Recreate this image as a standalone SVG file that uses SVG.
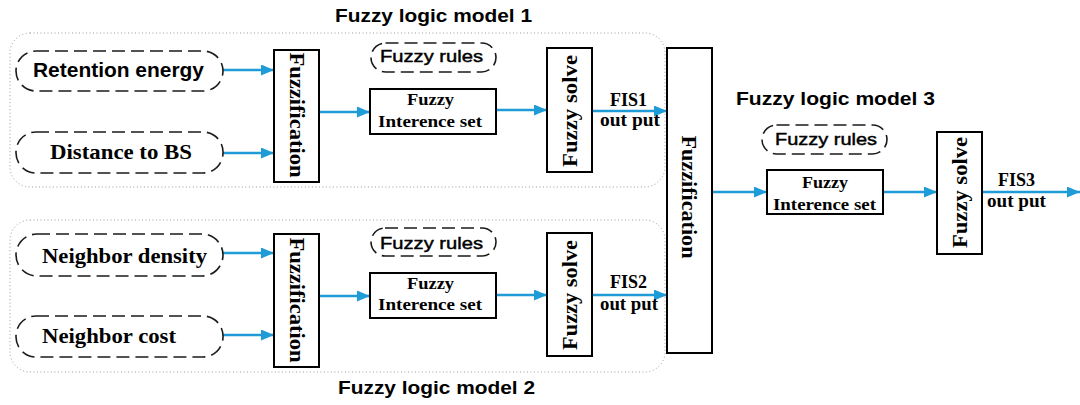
<svg xmlns="http://www.w3.org/2000/svg" width="1080" height="405" viewBox="0 0 1080 405">
  <style>
    .frame { fill: none; stroke: #9a9a9a; stroke-width: 1; stroke-dasharray: 1 2.5; }
    .pill { fill: #fff; stroke: #1a1a1a; stroke-width: 1.6; stroke-dasharray: 13 6; }
    .box { fill: #fff; stroke: #000; stroke-width: 2; }
    .sans { font-family: "Liberation Sans", Arial, sans-serif; fill: #000; }
    .serif { font-family: "Liberation Serif", "Times New Roman", serif; font-weight: bold; fill: #000; }
    .title { font-size: 17.5px; font-weight: bold; }
    .rules { font-size: 17px; stroke: #000; stroke-width: 0.45; }
    .input { font-size: 21px; }
    .set { font-size: 17px; }
    .vert { font-size: 21px; text-anchor: middle; dominant-baseline: central; }
    .fis { font-size: 18px; }
    .flow { fill: none; stroke: #1f9bd7; stroke-width: 2.5; marker-end: url(#head); }
  </style>
  <defs>
    <marker id="head" markerUnits="userSpaceOnUse" markerWidth="13" markerHeight="11" refX="13" refY="5.5" orient="auto">
      <path d="M0,0 L13,5.5 L0,11 Z" fill="#1f9bd7"/>
    </marker>
  </defs>

  <rect width="1080" height="405" fill="#fff"/>

  <!-- model frames -->
  <g id="model1-frame">
    <rect class="frame" x="10" y="33" width="655" height="154" rx="20"/>
    <text class="sans title" x="335" y="22" textLength="197" lengthAdjust="spacingAndGlyphs">Fuzzy logic model 1</text>
  </g>
  <g id="model2-frame">
    <rect class="frame" x="10" y="220" width="655" height="152" rx="20"/>
    <text class="sans title" x="338" y="394" textLength="197" lengthAdjust="spacingAndGlyphs">Fuzzy logic model 2</text>
  </g>
  <g id="model3-title">
    <text class="sans title" x="736" y="105" textLength="199" lengthAdjust="spacingAndGlyphs">Fuzzy logic model 3</text>
  </g>

  <!-- connectors -->
  <g id="connectors">
    <line class="flow" x1="223" y1="70" x2="274" y2="70"/>
    <line class="flow" x1="223" y1="153" x2="274" y2="153"/>
    <line class="flow" x1="319" y1="112" x2="370" y2="112"/>
    <line class="flow" x1="496" y1="110" x2="547" y2="110"/>
    <line class="flow" x1="592" y1="111" x2="667" y2="111"/>
    <line class="flow" x1="223" y1="253" x2="274" y2="253"/>
    <line class="flow" x1="223" y1="335" x2="274" y2="335"/>
    <line class="flow" x1="319" y1="296" x2="370" y2="296"/>
    <line class="flow" x1="496" y1="295" x2="547" y2="295"/>
    <line class="flow" x1="592" y1="295" x2="667" y2="295"/>
    <line class="flow" x1="712" y1="192" x2="767" y2="192"/>
    <line class="flow" x1="883" y1="192" x2="937" y2="192"/>
    <line class="flow" x1="982" y1="192" x2="1080" y2="192"/>
  </g>

  <!-- inputs -->
  <g id="retention-energy">
    <rect class="pill" x="16" y="51" width="207" height="40" rx="20"/>
    <text class="sans input" x="33" y="77" font-weight="bold" font-size="19" textLength="171" lengthAdjust="spacingAndGlyphs">Retention energy</text>
  </g>
  <g id="distance-to-bs">
    <rect class="pill" x="16" y="132" width="207" height="41" rx="20"/>
    <text class="serif input" x="50" y="159" textLength="142" lengthAdjust="spacingAndGlyphs">Distance to BS</text>
  </g>
  <g id="neighbor-density">
    <rect class="pill" x="16" y="234" width="207" height="42" rx="21"/>
    <text class="serif input" x="42" y="263" textLength="165" lengthAdjust="spacingAndGlyphs">Neighbor density</text>
  </g>
  <g id="neighbor-cost">
    <rect class="pill" x="16" y="316" width="207" height="41" rx="20"/>
    <text class="serif input" x="42" y="343" textLength="134" lengthAdjust="spacingAndGlyphs">Neighbor cost</text>
  </g>

  <!-- model 1 -->
  <g id="fuzzification-1">
    <rect class="box" x="274" y="50" width="45" height="132"/>
    <text class="serif vert" transform="translate(296.5,115) rotate(90)" textLength="125" lengthAdjust="spacingAndGlyphs">Fuzzification</text>
  </g>
  <g id="rules-1">
    <rect class="pill" x="371" y="43" width="125" height="29" rx="14.5"/>
    <text class="sans rules" x="380" y="62" textLength="103" lengthAdjust="spacingAndGlyphs">Fuzzy rules</text>
  </g>
  <g id="inference-1">
    <rect class="box" x="370" y="89" width="126" height="45"/>
    <text class="serif set" x="430.5" y="105" text-anchor="middle" textLength="47" lengthAdjust="spacingAndGlyphs">Fuzzy</text>
    <text class="serif set" x="378" y="127" textLength="104" lengthAdjust="spacingAndGlyphs">Interence set</text>
  </g>
  <g id="solve-1">
    <rect class="box" x="547" y="48" width="45" height="124"/>
    <text class="serif vert" transform="translate(570,111) rotate(-90)" textLength="112" lengthAdjust="spacingAndGlyphs">Fuzzy solve</text>
  </g>
  <g id="fis1">
    <text class="serif fis" x="610" y="106" textLength="37" lengthAdjust="spacingAndGlyphs">FIS1</text>
    <text class="serif fis" x="600" y="126" textLength="60" lengthAdjust="spacingAndGlyphs">out put</text>
  </g>

  <!-- model 2 -->
  <g id="fuzzification-2">
    <rect class="box" x="274" y="234" width="45" height="133"/>
    <text class="serif vert" transform="translate(296.5,300) rotate(90)" textLength="125" lengthAdjust="spacingAndGlyphs">Fuzzification</text>
  </g>
  <g id="rules-2">
    <rect class="pill" x="371" y="228" width="125" height="28" rx="14"/>
    <text class="sans rules" x="380" y="249" textLength="103" lengthAdjust="spacingAndGlyphs">Fuzzy rules</text>
  </g>
  <g id="inference-2">
    <rect class="box" x="370" y="273" width="126" height="45"/>
    <text class="serif set" x="430.5" y="289" text-anchor="middle" textLength="47" lengthAdjust="spacingAndGlyphs">Fuzzy</text>
    <text class="serif set" x="378" y="310" textLength="104" lengthAdjust="spacingAndGlyphs">Interence set</text>
  </g>
  <g id="solve-2">
    <rect class="box" x="547" y="233" width="45" height="123"/>
    <text class="serif vert" transform="translate(570,295) rotate(-90)" textLength="110" lengthAdjust="spacingAndGlyphs">Fuzzy solve</text>
  </g>
  <g id="fis2">
    <text class="serif fis" x="610" y="288" textLength="37" lengthAdjust="spacingAndGlyphs">FIS2</text>
    <text class="serif fis" x="600" y="310" textLength="58" lengthAdjust="spacingAndGlyphs">out put</text>
  </g>

  <!-- model 3 -->
  <g id="fuzzification-3">
    <rect class="box" x="667" y="48" width="45" height="305"/>
    <text class="serif vert" transform="translate(689,197) rotate(90)" textLength="123" lengthAdjust="spacingAndGlyphs">Fuzzification</text>
  </g>
  <g id="rules-3">
    <rect class="pill" x="762" y="125" width="125" height="29" rx="14.5"/>
    <text class="sans rules" x="775" y="145" textLength="102" lengthAdjust="spacingAndGlyphs">Fuzzy rules</text>
  </g>
  <g id="inference-3">
    <rect class="box" x="767" y="170" width="116" height="44"/>
    <text class="serif set" x="825" y="188" text-anchor="middle" textLength="46" lengthAdjust="spacingAndGlyphs">Fuzzy</text>
    <text class="serif set" x="773" y="210" textLength="103" lengthAdjust="spacingAndGlyphs">Interence set</text>
  </g>
  <g id="solve-3">
    <rect class="box" x="937" y="132" width="45" height="122"/>
    <text class="serif vert" transform="translate(959.5,192.5) rotate(-90)" textLength="111" lengthAdjust="spacingAndGlyphs">Fuzzy solve</text>
  </g>
  <g id="fis3">
    <text class="serif fis" x="998" y="186" textLength="37" lengthAdjust="spacingAndGlyphs">FIS3</text>
    <text class="serif fis" x="987" y="207" textLength="59" lengthAdjust="spacingAndGlyphs">out put</text>
  </g>
</svg>
